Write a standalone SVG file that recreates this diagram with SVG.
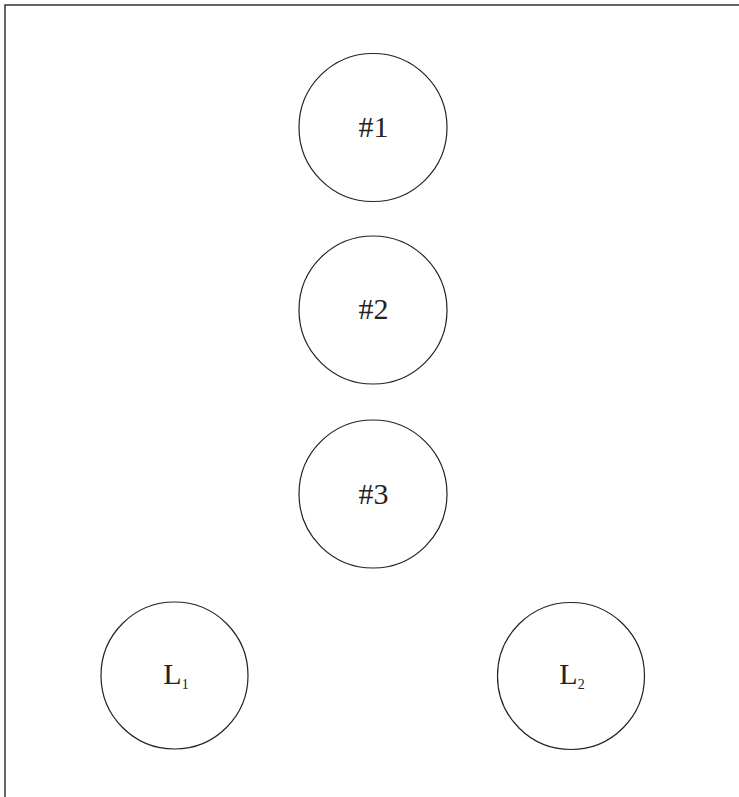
<svg xmlns="http://www.w3.org/2000/svg" width="739" height="797" viewBox="0 0 739 797">
<style>
.node circle { fill: #fff; stroke: #222; stroke-width: 1.2; }
.lbl { font-family: "Liberation Serif", "DejaVu Serif", serif; font-size: 30px; fill: #222; text-anchor: middle; }
.sub { font-size: 14px; }
.frame { fill: none; stroke: #333; stroke-width: 1.5; }
</style>
<rect width="739" height="797" fill="#fff"/>
<path class="frame" d="M5 797 V5 H739"/>
<g id="connectors"></g>
<g id="n1" class="node">
  <circle cx="373" cy="127.5" r="74"/>
  <text class="lbl" x="373.5" y="137">#1</text>
</g>
<g id="n2" class="node">
  <circle cx="373" cy="310" r="74"/>
  <text class="lbl" x="373.5" y="319">#2</text>
</g>
<g id="n3" class="node">
  <circle cx="373" cy="494" r="74"/>
  <text class="lbl" x="373.5" y="503.5">#3</text>
</g>
<g id="L1" class="node">
  <circle cx="174.5" cy="675.5" r="73.5"/>
  <text class="lbl" x="176" y="683.5">L<tspan class="sub" dy="5">1</tspan></text>
</g>
<g id="L2" class="node">
  <circle cx="571" cy="676" r="73.5"/>
  <text class="lbl" x="572" y="683.5">L<tspan class="sub" dy="5">2</tspan></text>
</g>
</svg>
